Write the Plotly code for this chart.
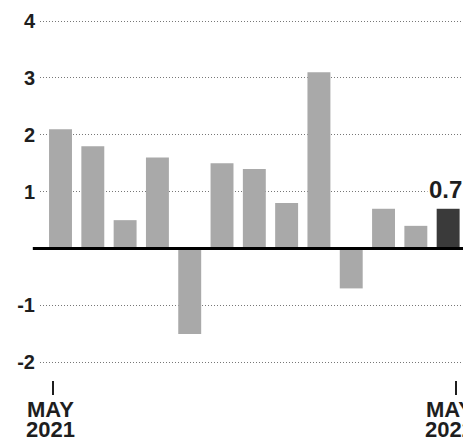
import plotly.graph_objects as go

# Monthly change, May 2021 - May 2022
months = ["May 2021", "Jun 2021", "Jul 2021", "Aug 2021", "Sep 2021", "Oct 2021",
          "Nov 2021", "Dec 2021", "Jan 2022", "Feb 2022", "Mar 2022", "Apr 2022", "May 2022"]
values = [2.1, 1.8, 0.5, 1.6, -1.5, 1.5, 1.4, 0.8, 3.1, -0.7, 0.7, 0.4, 0.7]

y_ticks = [-2, -1, 1, 2, 3, 4]
x_tick_months = ["MAY", "MAY"]
x_tick_years = ["2021", "2022"]

GREY = "#a9a9a9"
DARK = "#3a3a3a"
TEXT = "#1e1e1e"
FONT = "Liberation Sans, Arial, sans-serif"

xs = list(range(len(months)))
colors = [GREY] * (len(values) - 1) + [DARK]
tick_pos = [xs[0] - 0.23, xs[-1] + 0.25]
label_shift = [-3, -7]

fig = go.Figure(
    go.Bar(
        x=xs,
        y=values,
        marker=dict(color=colors, line=dict(width=0)),
        hovertext=months,
        showlegend=False,
    )
)

# value label on the latest month
fig.add_annotation(
    x=xs[-1], y=values[-1], text=f"<b>{values[-1]}</b>",
    showarrow=False, yanchor="bottom", yshift=4, xshift=-3,
    font=dict(family=FONT, size=24, color=TEXT),
    bgcolor="white", borderpad=1,
)

# two-line month / year labels under the end ticks
for pos, dx, mon, yr in zip(tick_pos, label_shift, x_tick_months, x_tick_years):
    fig.add_annotation(
        x=pos, xref="x", y=0, yref="paper", text=f"<b>{mon}</b>",
        showarrow=False, yanchor="middle", yshift=-29, xshift=dx,
        font=dict(family=FONT, size=22, color=TEXT),
    )
    fig.add_annotation(
        x=pos, xref="x", y=0, yref="paper", text=f"<b>{yr}</b>",
        showarrow=False, yanchor="middle", yshift=-49, xshift=dx,
        font=dict(family=FONT, size=22, color=TEXT),
    )

# heavy baseline at zero
fig.add_shape(
    type="line", xref="paper", yref="y",
    x0=-0.017, x1=1.0, y0=0, y1=0,
    line=dict(color="black", width=3),
)

fig.update_layout(
    width=463, height=441,
    margin=dict(l=40, r=0, t=0, b=61),
    paper_bgcolor="white", plot_bgcolor="white",
    bargap=0.29,
    font=dict(family=FONT, color=TEXT),
    xaxis=dict(
        range=[-0.635, 12.46],
        automargin=False,
        showgrid=False, zeroline=False, showline=False,
        tickmode="array",
        tickvals=tick_pos,
        ticktext=["", ""],
        ticks="outside", ticklen=14, tickwidth=1.5, tickcolor=TEXT,
    ),
    yaxis=dict(
        range=[-2.31, 4.37],
        automargin=False,
        tickmode="array",
        tickvals=y_ticks,
        ticktext=[f"<b>{v}</b>" for v in y_ticks],
        tickfont=dict(family=FONT, size=20, color=TEXT),
        showgrid=True, gridcolor="#777777", gridwidth=1, griddash="1px,2px",
        zeroline=False, showline=False, ticks="",
        ticklabelstandoff=4,
    ),
)

fig.write_html("out.html")
